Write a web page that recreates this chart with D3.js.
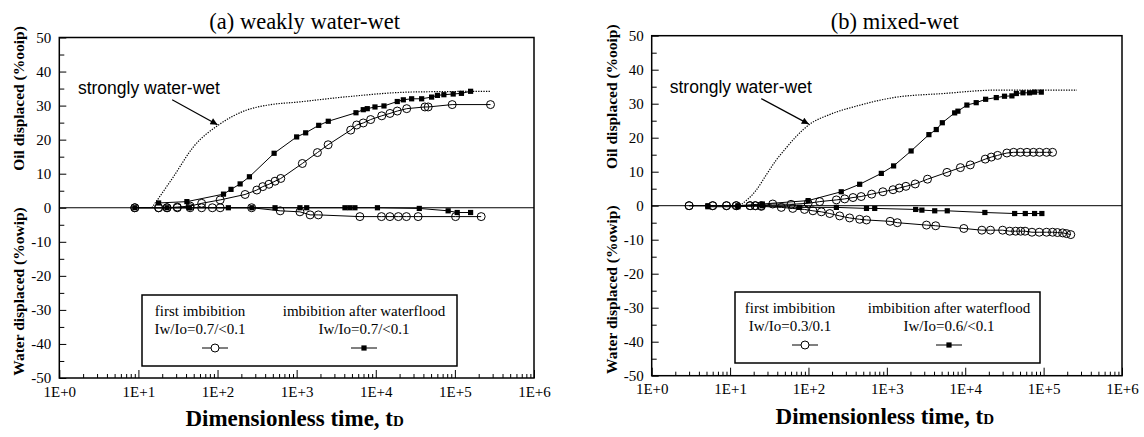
<!DOCTYPE html>
<html>
<head>
<meta charset="utf-8">
<script src="https://cdn.jsdelivr.net/npm/d3@7"></script>
<style>
  body { margin: 0; background: #fff; }
  svg { display: block; }
  text { fill: #000; }
</style>
</head>
<body>
<div id="chart-area"></div>
<script>
// ---- data: [dimensionless time, % displaced] ----
// (a) weakly water-wet
var aOilFirst = [[9,0],[18,0],[23,0],[31,0.2],[45,0.5],[63,1.3],[108,2.3],[223,3.9],[314,5.2],[373,6.2],[447,6.9],[533,7.8],[630,8.6],[1180,13.0],[1830,16.2],[2500,18.5],[4820,22.8],[5740,24.3],[6950,24.9],[8620,25.9],[11900,27.0],[15100,27.7],[18700,28.4],[24600,29.1],[41800,29.6],[46000,29.6],[92500,30.3],[282000,30.3]];
var aWaterFirst = [[9,0],[18,0],[23,0],[31,0],[45,0],[63,0],[86,0],[108,0],[270,0],[620,-0.9],[1100,-1.2],[1480,-2.1],[1880,-2.1],[6300,-2.6],[11800,-2.6],[15100,-2.6],[19300,-2.6],[24400,-2.6],[34300,-2.6],[102000,-2.6],[215000,-2.6]];
var aOilWf = [[18,1.4],[41,1.8],[119,4.0],[148,5.4],[193,7.0],[253,9.1],[519,16.0],[1000,20.8],[1300,22.0],[1900,24.2],[2510,25.4],[5620,27.9],[6950,28.8],[7810,29.1],[9770,29.6],[12700,29.9],[18700,31.2],[22300,31.7],[28400,32.0],[38000,32.0],[50800,32.5],[60200,33.0],[72600,33.2],[95200,33.4],[121000,33.6],[158000,34.2]];
var aWaterWf = [[9,0],[23,0],[44,0],[137,0],[272,0],[533,0],[1100,0],[1340,0],[4080,0],[4700,0],[5450,0],[10500,0],[35500,-0.2],[82200,-0.9],[107000,-1.4],[158000,-1.4]];
var aStrong = [[14.8,0],[27.7,9.1],[49.6,17.9],[103,24.3],[234,28.7],[419,30.1],[1100,31.1],[4300,32.6],[29700,34.0],[277000,34.2]];

// (b) mixed-wet
var bOilFirst = [[3,0],[6,0],[9,0],[12,0],[18,0],[21,0],[25,0],[35,0.5],[60,0.4],[99,0.7],[139,1.2],[227,1.7],[290,2.0],[370,2.4],[470,2.7],[640,3.4],[890,4.1],[1200,4.7],[1440,5.2],[1750,5.7],[2300,6.4],[3300,7.8],[5850,9.8],[8670,11.2],[11600,12.0],[18000,13.7],[21500,14.3],[25900,14.8],[34000,15.5],[41400,15.7],[50600,15.7],[61200,15.7],[74100,15.7],[88500,15.7],[109000,15.7],[130000,15.7]];
var bWaterFirst = [[3,0],[6,0],[9,0],[12,0],[18,0],[21,0],[25,-0.2],[45,-0.5],[63,-0.8],[89,-1.1],[114,-1.5],[146,-1.8],[187,-2.3],[250,-3.0],[335,-3.6],[450,-4.0],[550,-4.2],[1100,-4.6],[1360,-5.0],[3200,-5.7],[4200,-5.9],[9600,-6.7],[16300,-7.2],[21000,-7.2],[30000,-7.2],[37000,-7.5],[44000,-7.5],[51000,-7.5],[58000,-7.5],[71000,-7.8],[88000,-7.8],[109000,-7.8],[130000,-7.8],[150000,-7.9],[175000,-8.0],[196000,-8.2],[222000,-8.5]];
var bOilWf = [[5.2,0],[12.6,0],[25.8,0.5],[99,1.5],[262,4.1],[450,6.3],[850,9.5],[1220,11.7],[2040,16.1],[3440,20.9],[4270,22.4],[5100,24.4],[7330,27.3],[8070,27.8],[10500,29.6],[13800,30.3],[18200,31.3],[24900,31.8],[31700,32.2],[39400,32.3],[44900,33.0],[54500,33.2],[66100,33.2],[76700,33.4],[93400,33.4]];
var bWaterWf = [[5.2,-0.3],[12.6,-0.3],[25.8,0],[77,-0.5],[227,-0.5],[550,-0.8],[700,-0.8],[2330,-1.1],[2800,-1.3],[4080,-1.5],[5900,-1.5],[17800,-2.0],[42700,-2.3],[58400,-2.3],[76700,-2.3],[95000,-2.3]];
var bStrong = [[13.3,0],[21.6,4.6],[29,9.1],[39,13.5],[52,17.0],[70,20.4],[103,23.9],[186,26.8],[410,29.3],[1220,31.8],[5300,33.0],[25300,34.0],[266000,34.0]];

var xTicks = [1, 10, 100, 1000, 10000, 100000, 1000000];
var yTicks = [-50, -40, -30, -20, -10, 0, 10, 20, 30, 40, 50];
var titles = ["(a) weakly water-wet", "(b) mixed-wet"];
var legendFirst = ["Iw/Io=0.7/<0.1", "Iw/Io=0.3/0.1"];
var legendWf = ["Iw/Io=0.7/<0.1", "Iw/Io=0.6/<0.1"];

var serif = "'Liberation Serif', 'Times New Roman', serif";
var sans = "'Liberation Sans', Arial, sans-serif";

var svg = d3.select("#chart-area")
    .append("svg")
        .attr("width", 1144)
        .attr("height", 437);

var panels = [
    { left: 59.3, right: 534, top: 37.5, bottom: 378, first: aOilFirst, firstW: aWaterFirst,
      wf: aOilWf, wfW: aWaterWf, strong: aStrong,
      note: [1.72, 33.4], arrowFrom: [26.7, 31.7], arrowTo: [100, 24.4],
      legend: { x: 142, y: 295, w: 315, h: 71, c1: 200, s1: 215, c2: 364 } },
    { left: 651.7, right: 1122, top: 35.7, bottom: 375.7, first: bOilFirst, firstW: bWaterFirst,
      wf: bOilWf, wfW: bWaterWf, strong: bStrong,
      note: [1.7, 33.1], arrowFrom: [25, 31.5], arrowTo: [101, 24.0],
      legend: { x: 735, y: 292, w: 305, h: 71, c1: 790, s1: 805, c2: 949 } }
];

svg.append("defs").append("marker")
    .attr("id", "arrow")
    .attr("viewBox", "0 0 10 10")
    .attr("refX", 10).attr("refY", 5)
    .attr("markerWidth", 10).attr("markerHeight", 7)
    .attr("markerUnits", "userSpaceOnUse")
    .attr("orient", "auto")
    .append("path")
        .attr("d", "M0,0 L10,5 L0,10 z")
        .attr("fill", "#000");

function drawCircles(g, data, x, y) {
    g.append("g").selectAll("circle")
        .data(data)
        .enter().append("circle")
            .attr("cx", function(d) { return x(d[0]); })
            .attr("cy", function(d) { return y(d[1]); })
            .attr("r", 4)
            .attr("fill", "none")
            .attr("stroke", "#000")
            .attr("stroke-width", 1);
}

function drawSquares(g, data, x, y) {
    g.append("g").selectAll("rect")
        .data(data)
        .enter().append("rect")
            .attr("x", function(d) { return x(d[0]) - 2.6; })
            .attr("y", function(d) { return y(d[1]) - 2.6; })
            .attr("width", 5.2)
            .attr("height", 5.2)
            .attr("fill", "#000");
}

panels.forEach(function(p, i) {
    var x = d3.scaleLog().domain([1, 1e6]).range([p.left, p.right]);
    var y = d3.scaleLinear().domain([-50, 50]).range([p.bottom, p.top]);
    var g = svg.append("g");

    // minor ticks
    var minorX = [];
    for (var e = 0; e < 6; e++) {
        for (var k = 2; k <= 9; k++) minorX.push(k * Math.pow(10, e));
    }
    g.append("g")
        .attr("transform", "translate(0," + p.bottom + ")")
        .call(d3.axisBottom(x).tickValues(minorX).tickSize(-4).tickFormat(""))
        .call(function(a) { a.select(".domain").remove(); });
    g.append("g")
        .attr("transform", "translate(" + p.left + ",0)")
        .call(d3.axisLeft(y).tickValues(d3.range(-45, 50, 10)).tickSize(-5).tickFormat(""))
        .call(function(a) { a.select(".domain").remove(); });

    // major ticks
    var xAxis = g.append("g")
        .attr("transform", "translate(0," + p.bottom + ")")
        .call(d3.axisBottom(x).tickValues(xTicks).tickSize(-8).tickPadding(8)
            .tickFormat(function(d) { return "1E+" + Math.round(Math.log10(d)); }));
    xAxis.select(".domain").remove();

    var yAxis = g.append("g")
        .attr("transform", "translate(" + p.left + ",0)")
        .call(d3.axisLeft(y).tickValues(yTicks).tickSize(-7).tickPadding(8)
            .tickFormat(function(d) { return String(d); }));
    yAxis.select(".domain").remove();

    g.selectAll(".tick line").attr("stroke", "#000").attr("stroke-width", 1);
    g.selectAll(".tick text")
        .attr("font-family", serif)
        .attr("font-size", "15px")
        .attr("fill", "#000");

    // frame and zero line
    g.append("rect")
        .attr("x", p.left).attr("y", p.top)
        .attr("width", p.right - p.left).attr("height", p.bottom - p.top)
        .attr("fill", "none").attr("stroke", "#000").attr("stroke-width", 1.5);
    g.append("line")
        .attr("x1", p.left).attr("x2", p.right)
        .attr("y1", y(0)).attr("y2", y(0))
        .attr("stroke", "#000").attr("stroke-width", 1);

    // curves
    var line = d3.line()
        .x(function(d) { return x(d[0]); })
        .y(function(d) { return y(d[1]); });

    g.append("path")
        .attr("d", line.curve(d3.curveMonotoneX)(p.strong))
        .attr("fill", "none").attr("stroke", "#000")
        .attr("stroke-width", 1.2).attr("stroke-dasharray", "1.3,1.3");
    line.curve(d3.curveLinear);

    [p.first, p.firstW, p.wf, p.wfW].forEach(function(s) {
        g.append("path")
            .attr("d", line(s))
            .attr("fill", "none").attr("stroke", "#000").attr("stroke-width", 1);
    });

    drawCircles(g, p.first, x, y);
    drawCircles(g, p.firstW, x, y);
    drawSquares(g, p.wf, x, y);
    drawSquares(g, p.wfW, x, y);

    // annotation
    g.append("text")
        .attr("x", x(p.note[0])).attr("y", y(p.note[1]))
        .attr("font-family", sans).attr("font-size", "17.5px")
        .text("strongly water-wet");
    g.append("line")
        .attr("x1", x(p.arrowFrom[0])).attr("y1", y(p.arrowFrom[1]))
        .attr("x2", x(p.arrowTo[0])).attr("y2", y(p.arrowTo[1]))
        .attr("stroke", "#000").attr("stroke-width", 1.2)
        .attr("marker-end", "url(#arrow)");

    // title
    var cx = (p.left + p.right) / 2;
    g.append("text")
        .attr("x", cx + 8).attr("y", 29)
        .attr("text-anchor", "middle")
        .attr("font-family", serif).attr("font-size", "22.5px")
        .text(titles[i]);

    // y labels
    var lx = p.left - 35;
    g.append("text")
        .attr("transform", "translate(" + lx + "," + (p.top + 61) + ") rotate(-90)")
        .attr("text-anchor", "middle")
        .attr("font-family", serif).attr("font-size", "15.5px").attr("font-weight", "bold")
        .text("Oil displaced (%ooip)");
    g.append("text")
        .attr("transform", "translate(" + lx + "," + (p.top + 254) + ") rotate(-90)")
        .attr("text-anchor", "middle")
        .attr("font-family", serif).attr("font-size", "15.5px").attr("font-weight", "bold")
        .text("Water displaced (%owip)");

    // x label
    var xl = g.append("text")
        .attr("x", cx - 2).attr("y", p.bottom + 48)
        .attr("text-anchor", "middle")
        .attr("font-family", serif).attr("font-size", "23px").attr("font-weight", "bold");
    xl.append("tspan").text("Dimensionless time, t");
    xl.append("tspan").attr("font-size", "15px").text("D");

    // legend
    var L = p.legend;
    var lg = g.append("g");
    lg.append("rect")
        .attr("x", L.x).attr("y", L.y).attr("width", L.w).attr("height", L.h)
        .attr("fill", "#fff").attr("stroke", "#000").attr("stroke-width", 1.5);
    [[L.c1, "first imbibition", legendFirst[i]], [L.c2, "imbibition after waterflood", legendWf[i]]]
        .forEach(function(c) {
            lg.append("text").attr("x", c[0]).attr("y", L.y + 21)
                .attr("text-anchor", "middle").attr("font-family", serif).attr("font-size", "15px")
                .text(c[1]);
            lg.append("text").attr("x", c[0]).attr("y", L.y + 39)
                .attr("text-anchor", "middle").attr("font-family", serif).attr("font-size", "15px")
                .text(c[2]);
        });
    var sy = L.y + 53;
    lg.append("line").attr("x1", L.s1 - 13).attr("x2", L.s1 + 13).attr("y1", sy).attr("y2", sy)
        .attr("stroke", "#000");
    lg.append("circle").attr("cx", L.s1).attr("cy", sy).attr("r", 4)
        .attr("fill", "#fff").attr("stroke", "#000");
    lg.append("line").attr("x1", L.c2 - 13).attr("x2", L.c2 + 13).attr("y1", sy).attr("y2", sy)
        .attr("stroke", "#000");
    lg.append("rect").attr("x", L.c2 - 2.6).attr("y", sy - 2.6).attr("width", 5.2).attr("height", 5.2)
        .attr("fill", "#000");
});
</script>
</body>
</html>
